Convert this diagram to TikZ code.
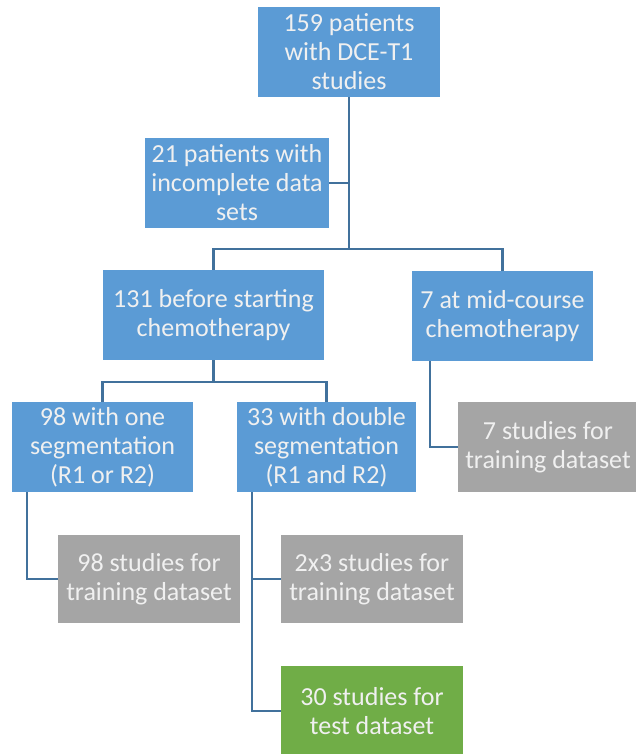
\documentclass[tikz,border=0pt]{standalone}
\usepackage{fontspec}
\setmainfont{Carlito}
\definecolor{boxblue}{HTML}{5B9BD5}
\definecolor{boxgray}{HTML}{A5A5A5}
\definecolor{boxgreen}{HTML}{70AD47}
\definecolor{linkblue}{HTML}{41719C}
\begin{document}
\begin{tikzpicture}[x=1pt,y=-1pt,
  cell/.style={rectangle, inner sep=0pt, minimum width=182pt, minimum height=90pt,
    align=center, text=white!94!black, font=\fontsize{26}{29}\selectfont},
  bluebox/.style={cell, fill=boxblue},
  graybox/.style={cell, fill=boxgray},
  greenbox/.style={cell, fill=boxgreen},
  conn/.style={draw=linkblue, line width=2.2pt}]
\clip (0,0) rectangle (636,754);
\fill[white] (0,0) rectangle (636,754);

% patient selection
\node[bluebox] (top) at (349,52) {159 patients\\with DCE-T1\\studies};
\node[bluebox, minimum width=184pt] (inc) at (237,183) {21 patients with\\incomplete data\\sets};
\node[bluebox, minimum width=221pt] (pre) at (213.5,315) {131 before starting\\chemotherapy};
\node[bluebox, minimum width=181pt] (mid) at (502.5,316) {7 at mid-course\\chemotherapy};

% segmentation groups
\node[bluebox, minimum width=181pt] (one) at (102.5,447) {98 with one\\segmentation\\(R1 or R2)};
\node[bluebox, minimum width=179pt] (dbl) at (326.5,447) {33 with double\\segmentation\\(R1 and R2)};

% resulting datasets
\node[graybox, minimum width=180pt] (s7) at (548,447) {7 studies for\\training dataset};
\node[graybox, minimum height=88pt] (s98) at (149,579) {98 studies for\\training dataset};
\node[graybox, minimum height=88pt] (s2x3) at (372,579) {2x3 studies for\\training dataset};
\node[greenbox] (s30) at (372,711) {30 studies for\\test dataset};

% connectors
\coordinate (busA) at (349,249);
\coordinate (busB) at (213.5,382);
\draw[conn] (top.south) -- (busA);
\draw[conn] (inc.east) -- (inc.east -| busA);
\draw[conn] (pre.north) |- (busA);
\draw[conn] (mid.north) |- (busA);
\draw[conn] (pre.south) -- (busB);
\draw[conn] (one.north) |- (busB);
\draw[conn] (dbl.north) |- (busB);
\draw[conn] ([xshift=18pt]mid.south west) |- (s7.west);
\draw[conn] ([xshift=15pt]one.south west) |- (s98.west);
\draw[conn] ([xshift=15pt]dbl.south west) |- (s2x3.west);
\draw[conn] ([xshift=15pt]dbl.south west) |- (s30.west);
\end{tikzpicture}
\end{document}
